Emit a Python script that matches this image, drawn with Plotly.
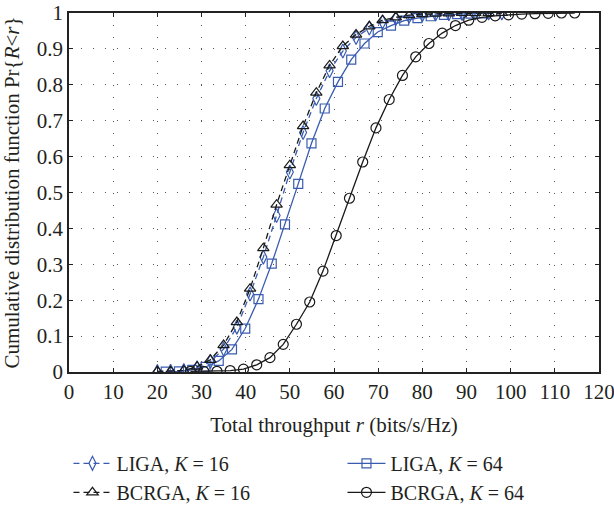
import plotly.graph_objects as go

# ---- data ----
x_k16 = [20, 23, 26, 29, 32, 35, 38, 41, 44, 47, 50, 53, 56, 59, 62, 65, 68, 71, 74, 77, 80, 83, 86, 89, 92, 95, 98]
liga_k16 = [0.001, 0.002, 0.004, 0.012, 0.029, 0.064, 0.125, 0.217, 0.320, 0.436, 0.557, 0.667, 0.762, 0.839,
            0.894, 0.932, 0.958, 0.975, 0.985, 0.991, 0.995, 0.997, 0.998, 0.999, 1.0, 1.0, 1.0]
bcrga_k16 = [0.002, 0.002, 0.004, 0.015, 0.034, 0.075, 0.139, 0.232, 0.345, 0.466, 0.576, 0.685, 0.778, 0.854,
             0.908, 0.940, 0.963, 0.980, 0.988, 0.994, 0.997, 0.998, 0.999, 1.0, 1.0, 1.0, 1.0]

x_liga64 = [21.9, 24.9, 27.9, 30.9, 33.9, 36.9, 39.9, 42.9, 45.9, 48.9, 51.9, 54.9, 57.9, 60.9, 63.9, 66.9,
            69.9, 72.9, 75.9, 78.9, 81.9, 84.9, 87.9, 90.9, 93.9]
liga_k64 = [0.001, 0.002, 0.006, 0.014, 0.031, 0.063, 0.121, 0.203, 0.302, 0.411, 0.524, 0.637, 0.734, 0.808,
            0.870, 0.915, 0.947, 0.965, 0.979, 0.986, 0.991, 0.995, 0.997, 0.998, 0.999]

x_bcrga64 = [27.5, 30.5, 33.5, 36.5, 39.5, 42.5, 45.5, 48.5, 51.5, 54.5, 57.5, 60.5, 63.5, 66.5, 69.5, 72.5,
             75.5, 78.5, 81.5, 84.5, 87.5, 90.5, 93.5, 96.5, 99.5, 102.5, 105.5, 108.5, 111.5, 114.5]
bcrga_k64 = [0.002, 0.002, 0.002, 0.004, 0.008, 0.020, 0.040, 0.077, 0.133, 0.195, 0.281, 0.380, 0.484, 0.585,
             0.680, 0.759, 0.826, 0.878, 0.915, 0.944, 0.965, 0.980, 0.988, 0.992, 0.995, 0.997, 0.998, 0.999,
             1.0, 1.0]

x_ticks = list(range(0, 121, 10))
y_ticks = [0, 0.1, 0.2, 0.3, 0.4, 0.5, 0.6, 0.7, 0.8, 0.9, 1]
y_tick_text = ["0", "0.1", "0.2", "0.3", "0.4", "0.5", "0.6", "0.7", "0.8", "0.9", "1"]

BLUE = "#3a5cb0"
BLACK = "#1a1a1a"
TEXT = "#231f20"
FONT = "Liberation Serif"

fig = go.Figure()
fig.add_trace(go.Scatter(
    x=x_k16, y=liga_k16, mode="lines+markers", name="LIGA, <i>K</i> = 16",
    line=dict(color=BLUE, width=1.3, dash="6px,4px"),
    marker=dict(symbol="diamond-tall-open", size=10, color=BLUE, line=dict(width=1.2, color=BLUE))))
fig.add_trace(go.Scatter(
    x=x_liga64, y=liga_k64, mode="lines+markers", name="LIGA, <i>K</i> = 64",
    line=dict(color=BLUE, width=1.3),
    marker=dict(symbol="square-open", size=9, color=BLUE, line=dict(width=1.2, color=BLUE))))
fig.add_trace(go.Scatter(
    x=x_k16, y=bcrga_k16, mode="lines+markers", name="BCRGA, <i>K</i> = 16",
    line=dict(color=BLACK, width=1.3, dash="6px,4px"),
    marker=dict(symbol="triangle-up-open", size=10, color=BLACK, line=dict(width=1.2, color=BLACK))))
fig.add_trace(go.Scatter(
    x=x_bcrga64, y=bcrga_k64, mode="lines+markers", name="BCRGA, <i>K</i> = 64",
    line=dict(color=BLACK, width=1.3),
    marker=dict(symbol="circle-open", size=10, color=BLACK, line=dict(width=1.2, color=BLACK))))

axis_common = dict(
    showline=True, linecolor="#222", linewidth=1.5, mirror="ticks",
    ticks="inside", ticklen=4, tickcolor="#222",
    showgrid=True, gridcolor="#555", gridwidth=1, griddash="1px,11px",
    zeroline=False, tickfont=dict(family=FONT, size=21, color=TEXT),
    automargin=False, ticklabeloverflow="allow",
)

fig.update_xaxes(range=[0, 120], tickvals=x_ticks,
                 title=dict(text="Total throughput <i>r</i> (bits/s/Hz)", font=dict(family=FONT, size=21, color=TEXT),
                            standoff=14),
                 **axis_common)
fig.update_yaxes(range=[0, 1], tickvals=y_ticks, ticktext=y_tick_text,
                 title=dict(text="Cumulative distribution function Pr{<i>R</i>&lt;<i>r</i>}",
                            font=dict(family=FONT, size=21, color=TEXT)),
                 **axis_common)

fig.update_layout(
    width=614, height=508,
    margin=dict(l=69, r=15, t=13, b=136, autoexpand=False),
    plot_bgcolor="white", paper_bgcolor="white",
    font=dict(family=FONT, size=20, color=TEXT),
    legend=dict(orientation="h", xref="paper", yref="paper",
                x=-0.001, xanchor="left", y=-0.2, yanchor="top",
                entrywidth=221, entrywidthmode="pixels",
                font=dict(family=FONT, size=20, color=TEXT), tracegroupgap=0,
                itemwidth=38),
    showlegend=True,
)

fig.write_html("out.html")
